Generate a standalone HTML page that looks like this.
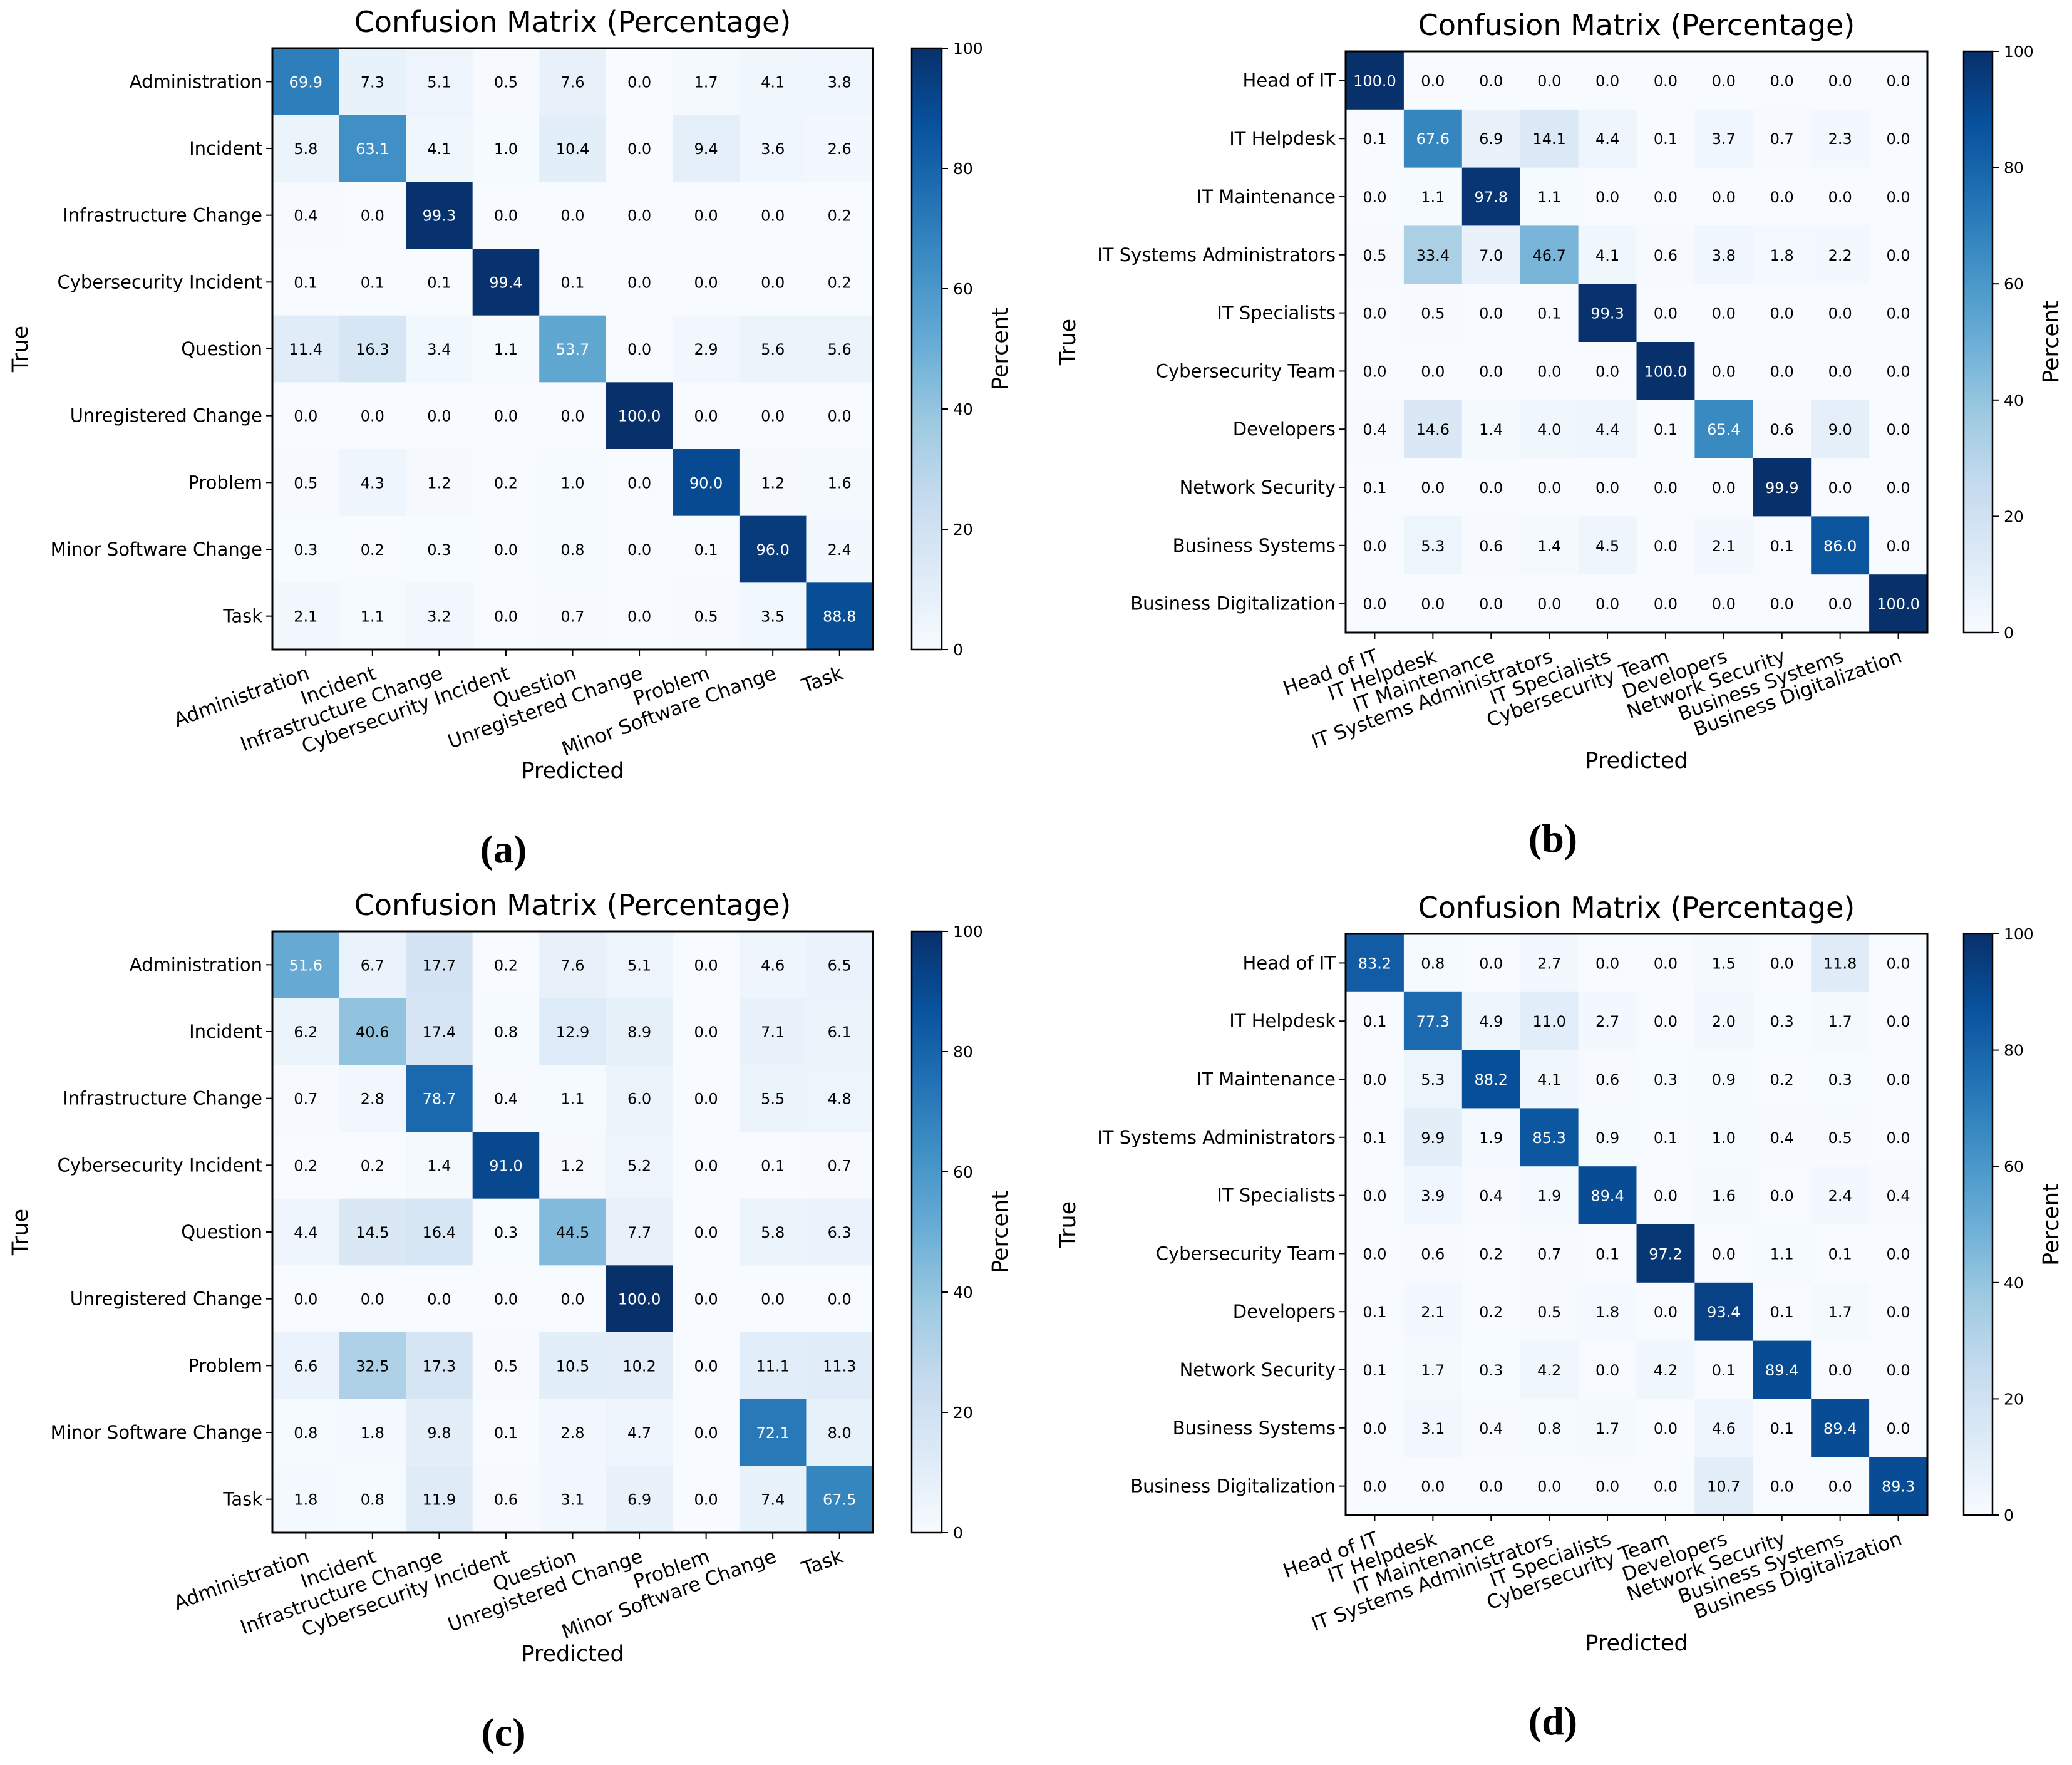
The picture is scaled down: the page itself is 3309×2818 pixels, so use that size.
<!DOCTYPE html>
<html><head><meta charset="utf-8"><style>
html,body{margin:0;padding:0;background:#fff;}
svg{display:block;font-family:"DejaVu Sans","Liberation Sans",sans-serif;}
</style></head><body>
<svg id="fig" width="3309" height="2818" viewBox="0 0 3309 2818" xmlns="http://www.w3.org/2000/svg">
<defs>
<linearGradient id="blues" x1="0" y1="1" x2="0" y2="0">
<stop offset="0" stop-color="#f7fbff"/><stop offset="0.125" stop-color="#deebf7"/><stop offset="0.25" stop-color="#c6dbef"/><stop offset="0.375" stop-color="#9ecae1"/><stop offset="0.5" stop-color="#6baed6"/><stop offset="0.625" stop-color="#4292c6"/><stop offset="0.75" stop-color="#2171b5"/><stop offset="0.875" stop-color="#08519c"/><stop offset="1" stop-color="#08306b"/>
</linearGradient>
</defs>
</svg>
<script>
const labelsTicket = ["Administration","Incident","Infrastructure Change","Cybersecurity Incident","Question","Unregistered Change","Problem","Minor Software Change","Task"];
const labelsTeam = ["Head of IT","IT Helpdesk","IT Maintenance","IT Systems Administrators","IT Specialists","Cybersecurity Team","Developers","Network Security","Business Systems","Business Digitalization"];
const valuesA = [
[69.9,7.3,5.1,0.5,7.6,0.0,1.7,4.1,3.8],
[5.8,63.1,4.1,1.0,10.4,0.0,9.4,3.6,2.6],
[0.4,0.0,99.3,0.0,0.0,0.0,0.0,0.0,0.2],
[0.1,0.1,0.1,99.4,0.1,0.0,0.0,0.0,0.2],
[11.4,16.3,3.4,1.1,53.7,0.0,2.9,5.6,5.6],
[0.0,0.0,0.0,0.0,0.0,100.0,0.0,0.0,0.0],
[0.5,4.3,1.2,0.2,1.0,0.0,90.0,1.2,1.6],
[0.3,0.2,0.3,0.0,0.8,0.0,0.1,96.0,2.4],
[2.1,1.1,3.2,0.0,0.7,0.0,0.5,3.5,88.8]];
const valuesB = [
[100.0,0.0,0.0,0.0,0.0,0.0,0.0,0.0,0.0,0.0],
[0.1,67.6,6.9,14.1,4.4,0.1,3.7,0.7,2.3,0.0],
[0.0,1.1,97.8,1.1,0.0,0.0,0.0,0.0,0.0,0.0],
[0.5,33.4,7.0,46.7,4.1,0.6,3.8,1.8,2.2,0.0],
[0.0,0.5,0.0,0.1,99.3,0.0,0.0,0.0,0.0,0.0],
[0.0,0.0,0.0,0.0,0.0,100.0,0.0,0.0,0.0,0.0],
[0.4,14.6,1.4,4.0,4.4,0.1,65.4,0.6,9.0,0.0],
[0.1,0.0,0.0,0.0,0.0,0.0,0.0,99.9,0.0,0.0],
[0.0,5.3,0.6,1.4,4.5,0.0,2.1,0.1,86.0,0.0],
[0.0,0.0,0.0,0.0,0.0,0.0,0.0,0.0,0.0,100.0]];
const valuesC = [
[51.6,6.7,17.7,0.2,7.6,5.1,0.0,4.6,6.5],
[6.2,40.6,17.4,0.8,12.9,8.9,0.0,7.1,6.1],
[0.7,2.8,78.7,0.4,1.1,6.0,0.0,5.5,4.8],
[0.2,0.2,1.4,91.0,1.2,5.2,0.0,0.1,0.7],
[4.4,14.5,16.4,0.3,44.5,7.7,0.0,5.8,6.3],
[0.0,0.0,0.0,0.0,0.0,100.0,0.0,0.0,0.0],
[6.6,32.5,17.3,0.5,10.5,10.2,0.0,11.1,11.3],
[0.8,1.8,9.8,0.1,2.8,4.7,0.0,72.1,8.0],
[1.8,0.8,11.9,0.6,3.1,6.9,0.0,7.4,67.5]];
const valuesD = [
[83.2,0.8,0.0,2.7,0.0,0.0,1.5,0.0,11.8,0.0],
[0.1,77.3,4.9,11.0,2.7,0.0,2.0,0.3,1.7,0.0],
[0.0,5.3,88.2,4.1,0.6,0.3,0.9,0.2,0.3,0.0],
[0.1,9.9,1.9,85.3,0.9,0.1,1.0,0.4,0.5,0.0],
[0.0,3.9,0.4,1.9,89.4,0.0,1.6,0.0,2.4,0.4],
[0.0,0.6,0.2,0.7,0.1,97.2,0.0,1.1,0.1,0.0],
[0.1,2.1,0.2,0.5,1.8,0.0,93.4,0.1,1.7,0.0],
[0.1,1.7,0.3,4.2,0.0,4.2,0.1,89.4,0.0,0.0],
[0.0,3.1,0.4,0.8,1.7,0.0,4.6,0.1,89.4,0.0],
[0.0,0.0,0.0,0.0,0.0,0.0,10.7,0.0,0.0,89.3]];
const cbarTicks = [0,20,40,60,80,100];

const stops = [[247,251,255],[222,235,247],[198,219,239],[158,202,225],[107,174,214],[66,146,198],[33,113,181],[8,81,156],[8,48,107]];
function blues(v){
  let t = Math.max(0,Math.min(1,v/100))*8;
  let i = Math.min(7,Math.floor(t)), f = t-i;
  const a=stops[i], b=stops[i+1];
  return `rgb(${Math.round(a[0]+(b[0]-a[0])*f)},${Math.round(a[1]+(b[1]-a[1])*f)},${Math.round(a[2]+(b[2]-a[2])*f)})`;
}
const NS="http://www.w3.org/2000/svg";
const svg=document.getElementById('fig');
function mk(tag, parent, attrs, txt){
  const e=document.createElementNS(NS,tag);
  for(const k in attrs) e.setAttribute(k,attrs[k]);
  if(txt!==undefined) e.textContent=txt;
  parent.appendChild(e); return e;
}
const panels = [
 {id:'a', labels:labelsTicket, vals:valuesA, L:435, T:77, W:959, H:960, cbx:1456, cbw:48, trueX:32, pctX:1597, letterX:804},
 {id:'b', labels:labelsTeam, vals:valuesB, L:2149, T:82, W:929, H:928, cbx:3136, cbw:46, trueX:1705, pctX:3275, letterX:2480},
 {id:'c', labels:labelsTicket, vals:valuesC, L:435, T:1487, W:959, H:960, cbx:1456, cbw:48, trueX:32, pctX:1597, letterX:804},
 {id:'d', labels:labelsTeam, vals:valuesD, L:2149, T:1491, W:929, H:928, cbx:3136, cbw:46, trueX:1705, pctX:3275, letterX:2480}
];
panels.forEach(p=>{
  const g=mk('g',svg,{});
  
  
  const n=p.labels.length, cw=p.W/n, ch=p.H/n;
  const xs=j=>p.L+j*cw, ys=i=>p.T+i*ch;
  const t=mk('text',g,{x:p.L+p.W/2,y:p.T-26,'text-anchor':'middle','font-size':46,fill:'#000'},'Confusion Matrix (Percentage)');
  
  
  p.vals.forEach((row,i)=>row.forEach((v,j)=>{
    const r=mk('rect',g,{x:xs(j),y:ys(i),width:cw+0.6,height:ch+0.6,fill:blues(v)});
    
    
    const tx=mk('text',g,{x:xs(j)+cw/2,y:ys(i)+ch/2+9,'text-anchor':'middle','font-size':24,fill:v>50?'#fff':'#000'},v.toFixed(1));
    
    
  }));
  const fr=mk('rect',g,{x:p.L,y:p.T,width:p.W,height:p.H,fill:'none',stroke:'#000','stroke-width':3});
  
  
  p.labels.forEach((lab,i)=>{
    const yc=ys(i)+ch/2;
    mk('line',g,{x1:p.L-10,y1:yc,x2:p.L,y2:yc,stroke:'#000','stroke-width':2});
    const yl=mk('text',g,{x:p.L-16,y:yc+10,'text-anchor':'end','font-size':29,fill:'#000'},lab);
    
    
    const xc=xs(i)+cw/2;
    mk('line',g,{x1:xc,y1:p.T+p.H,x2:xc,y2:p.T+p.H+10,stroke:'#000','stroke-width':2});
    const ay=p.T+p.H+25;
    const xl=mk('text',g,{x:xc,y:ay,'text-anchor':'end','dominant-baseline':'hanging','font-size':31,fill:'#000',transform:`rotate(-20 ${xc} ${ay})`},lab);
    
    
  });
  const xlab=mk('text',g,{x:p.L+p.W/2,y:(n===9?p.T+p.H+205:p.T+p.H+216),'text-anchor':'middle','font-size':35,fill:'#000'},'Predicted');
  
  
  const ty=p.T+p.H/2;
  const ylab=mk('text',g,{x:p.trueX,y:ty,'text-anchor':'middle','font-size':35,fill:'#000',transform:`rotate(-90 ${p.trueX} ${ty})`,dy:12},'True');
  
  
  const cb=mk('rect',g,{x:p.cbx,y:p.T,width:p.cbw,height:p.H,fill:'url(#blues)',stroke:'#000','stroke-width':2.5});
  
  
  cbarTicks.forEach(v=>{
    const yy=p.T+p.H-(v/100)*p.H;
    mk('line',g,{x1:p.cbx+p.cbw,y1:yy,x2:p.cbx+p.cbw+10,y2:yy,stroke:'#000','stroke-width':2});
    const cl=mk('text',g,{x:p.cbx+p.cbw+18,y:yy+9,'font-size':25,fill:'#000'},String(v));
    
    
  });
  const pl=mk('text',g,{x:p.pctX,y:ty,'text-anchor':'middle','font-size':35,fill:'#000',transform:`rotate(-90 ${p.pctX} ${ty})`,dy:12},'Percent');
  
  
  const lt=mk('text',g,{x:p.letterX,y:(n===9?p.T+p.H+340:p.T+p.H+350),'text-anchor':'middle','font-size':64,'font-weight':'bold','font-family':'"Liberation Serif",serif',fill:'#000'},'('+p.id+')');
  
  
});
</script>
</body></html>
